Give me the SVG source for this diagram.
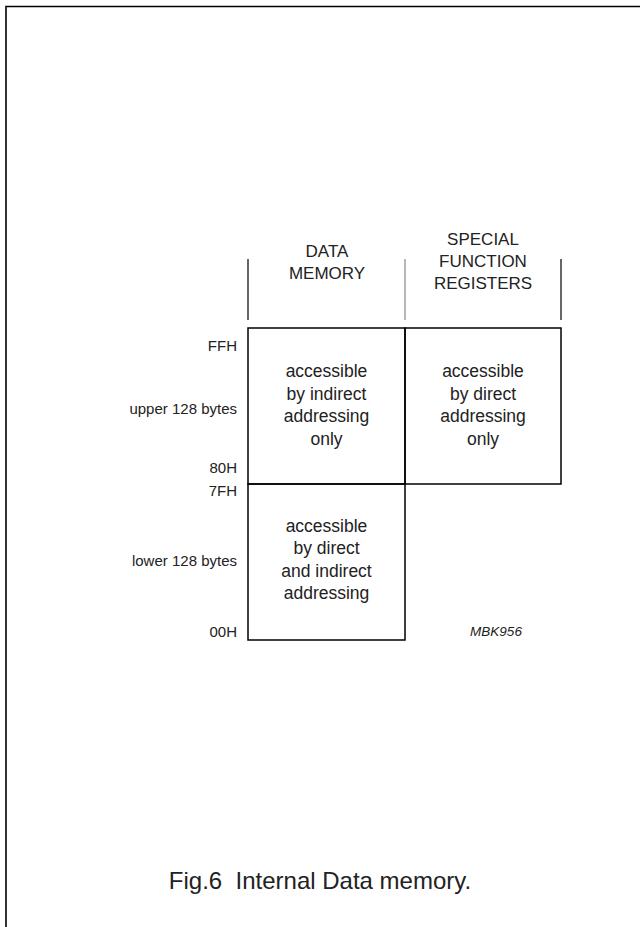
<svg xmlns="http://www.w3.org/2000/svg" width="640" height="927" viewBox="0 0 640 927">
<style>
text{font-family:"Liberation Sans",Arial,sans-serif;fill:#222;}
.lbl{font-size:15px;text-anchor:end;}
.hd{font-size:17px;text-anchor:middle;}
.bx{font-size:17.5px;text-anchor:middle;}
.box{fill:none;stroke:#000;stroke-width:1.5;}
.cap{font-size:24px;text-anchor:middle;white-space:pre;}
.code{font-size:13.5px;font-style:italic;text-anchor:middle;}
</style>
<rect width="640" height="927" fill="#fff"/>
<path d="M6,927 V6.5 H640" fill="none" stroke="#000" stroke-width="1.6"/>
<g id="headers">
<line x1="248" y1="259" x2="248" y2="320" stroke="#000" stroke-width="1.2"/>
<line x1="405" y1="259" x2="405" y2="320" stroke="#888" stroke-width="1.2"/>
<line x1="561" y1="259" x2="561" y2="320" stroke="#000" stroke-width="1.2"/>
<text class="hd" x="327" y="257">DATA</text>
<text class="hd" x="327" y="279">MEMORY</text>
<text class="hd" x="483" y="245">SPECIAL</text>
<text class="hd" x="483" y="267">FUNCTION</text>
<text class="hd" x="483" y="289">REGISTERS</text>
</g>
<g id="upper-data">
<rect class="box" x="248" y="328" width="157" height="156"/>
<text class="bx" x="326.5" y="377">accessible</text>
<text class="bx" x="326.5" y="399.5">by indirect</text>
<text class="bx" x="326.5" y="422">addressing</text>
<text class="bx" x="326.5" y="444.5">only</text>
</g>
<g id="sfr">
<rect class="box" x="405" y="328" width="156" height="156"/>
<text class="bx" x="483" y="377">accessible</text>
<text class="bx" x="483" y="399.5">by direct</text>
<text class="bx" x="483" y="422">addressing</text>
<text class="bx" x="483" y="444.5">only</text>
</g>
<g id="lower-data">
<rect class="box" x="248" y="484" width="157" height="156"/>
<text class="bx" x="326.5" y="532">accessible</text>
<text class="bx" x="326.5" y="554">by direct</text>
<text class="bx" x="326.5" y="576.5">and indirect</text>
<text class="bx" x="326.5" y="599">addressing</text>
</g>
<g id="labels">
<text class="lbl" x="237" y="351">FFH</text>
<text class="lbl" x="237" y="414">upper 128 bytes</text>
<text class="lbl" x="237" y="473">80H</text>
<text class="lbl" x="237" y="496">7FH</text>
<text class="lbl" x="237" y="566">lower 128 bytes</text>
<text class="lbl" x="237" y="637">00H</text>
</g>
<g id="connectors"></g>
<text class="code" x="496" y="636">MBK956</text>
<text class="cap" x="320" y="889" xml:space="preserve">Fig.6  Internal Data memory.</text>
</svg>
